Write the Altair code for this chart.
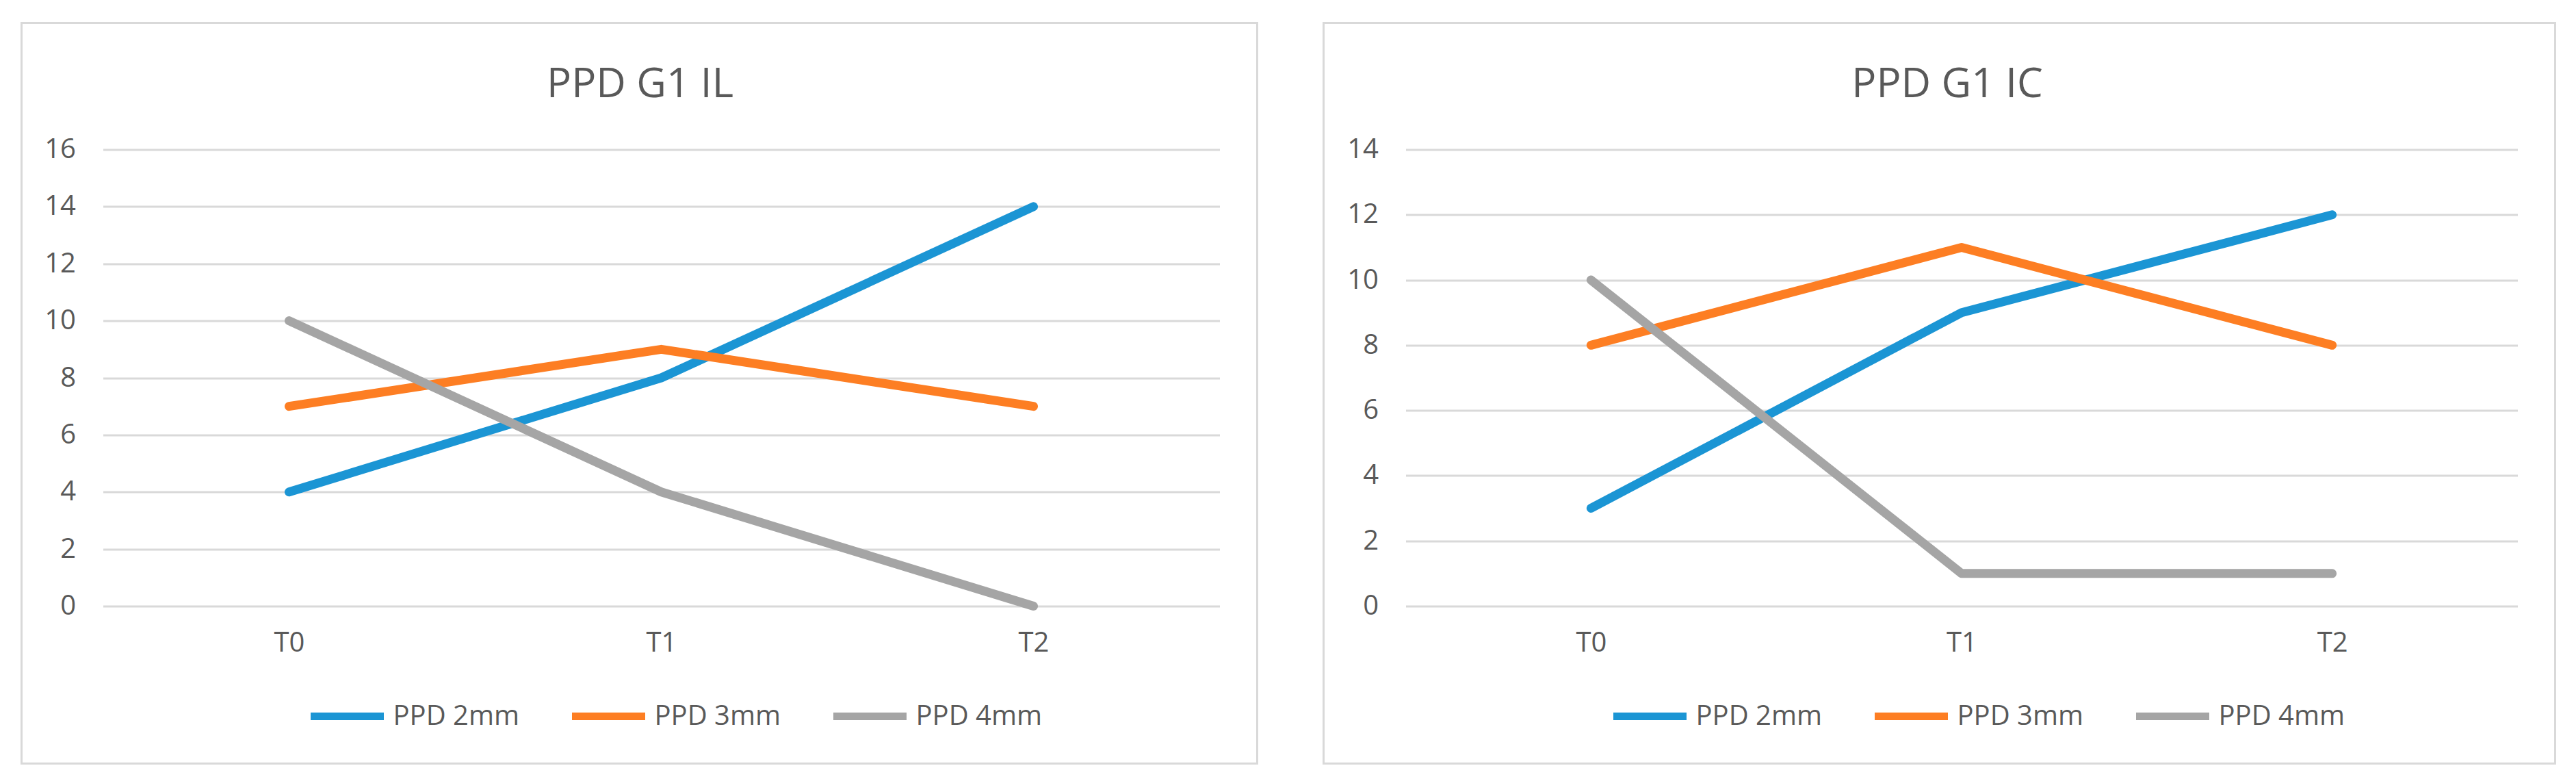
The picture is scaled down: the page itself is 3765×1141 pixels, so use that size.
import altair as alt
import pandas as pd

# ---- data ----
times = ["T0", "T1", "T2"]
series = ["PPD 2mm", "PPD 3mm", "PPD 4mm"]

il_2mm = [4, 8, 14]
il_3mm = [7, 9, 7]
il_4mm = [10, 4, 0]

ic_2mm = [3, 9, 12]
ic_3mm = [8, 11, 8]
ic_4mm = [10, 1, 1]

il_ticks = [0, 2, 4, 6, 8, 10, 12, 14, 16]
ic_ticks = [0, 2, 4, 6, 8, 10, 12, 14]

colors = ["#1B95D4", "#FD7E23", "#A5A5A5"]

FONT = "Open Sans"
TEXT = "#595959"
GRID = "#D9D9D9"


def make_df(a, b, c):
    rows = []
    for s, vals in zip(series, [a, b, c]):
        for t, v in zip(times, vals):
            rows.append({"time": t, "series": s, "value": v})
    return pd.DataFrame(rows)


def panel(df, title, ticks, width, height, title_dx, box):
    lines = alt.Chart(df).mark_line(
        strokeWidth=13, strokeCap="round", strokeJoin="round"
    ).encode(
        x=alt.X("time:N", sort=times,
                scale=alt.Scale(type="point", padding=0.5),
                axis=alt.Axis(title=None, labelAngle=0, grid=False, domain=False,
                              ticks=False, labelPadding=34)),
        y=alt.Y("value:Q",
                scale=alt.Scale(domain=[ticks[0], ticks[-1]], nice=False),
                axis=alt.Axis(title=None, values=ticks, grid=True, domain=False,
                              ticks=False, labelPadding=40, gridColor=GRID,
                              gridWidth=3)),
        color=alt.Color("series:N", sort=series,
                        scale=alt.Scale(domain=series, range=colors),
                        legend=alt.Legend(title=None, orient="none",
                                          legendX=298, legendY=769,
                                          direction="horizontal",
                                          symbolType="stroke",
                                          symbolSize=11449,
                                          symbolStrokeWidth=11,
                                          labelFontSize=40, labelFont=FONT,
                                          labelColor=TEXT, labelOffset=8,
                                          columnPadding=54, padding=0,
                                          labelLimit=600)),
        detail="series:N",
    )
    border = alt.Chart(pd.DataFrame({"k": [0]})).mark_rect(
        filled=False, stroke=GRID, strokeWidth=3
    ).encode(
        x=alt.value(box[0]), x2=alt.value(box[1]),
        y=alt.value(box[2]), y2=alt.value(box[3]),
    )
    return alt.layer(border, lines).properties(
        width=width, height=height,
        title=alt.Title(title, fontSize=60, font=FONT, fontWeight="normal",
                        color=TEXT, anchor="middle", frame="group",
                        dx=title_dx, offset=-170, baseline="alphabetic"),
    )


left = panel(make_df(il_2mm, il_3mm, il_4mm), "PPD G1 IL", il_ticks,
             1632, 667, -31, (-119, 1687, -185, 897))
right = panel(make_df(ic_2mm, ic_3mm, ic_4mm), "PPD G1 IC", ic_ticks,
              1625, 667, -21, (-120, 1680, -185, 897))

chart = alt.hconcat(left, right, spacing=93).resolve_scale(
    color="independent"
).resolve_legend(color="independent").properties(
    padding={"left": 21.5, "top": 23.5, "right": 5, "bottom": 5},
    background="white",
).configure_view(stroke=None).configure_axis(
    labelFont=FONT, labelFontSize=40, labelColor=TEXT
)

chart.save("out.html", embed_options={"renderer": "svg", "actions": False})
